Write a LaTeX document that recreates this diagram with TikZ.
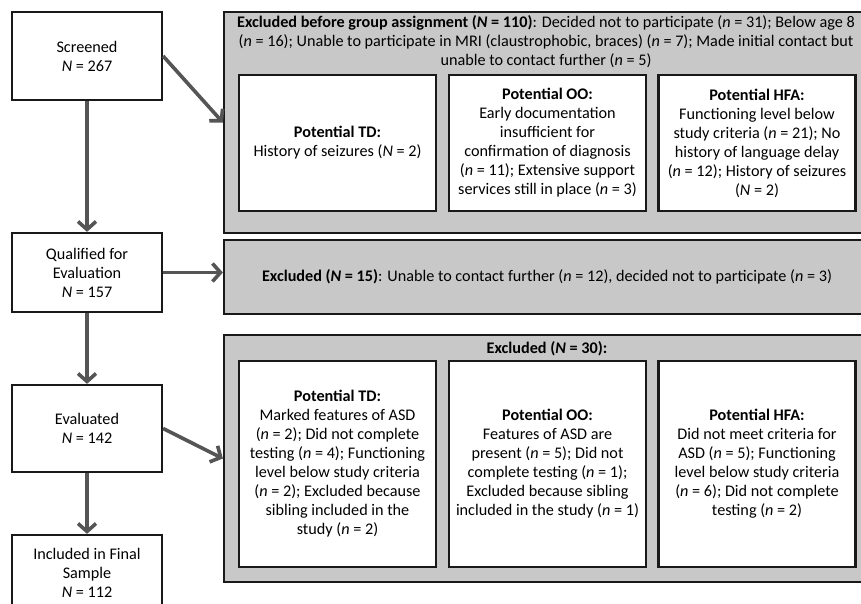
\documentclass[tikz,border=0pt]{standalone}
\usepackage{fontspec}
\setmainfont{Carlito}
\usetikzlibrary{arrows.meta}
\definecolor{boxgray}{RGB}{200,200,200}
\definecolor{arrowgray}{RGB}{85,85,85}
\begin{document}
\begin{tikzpicture}[x=1pt,y=-1pt,
		font=\fontsize{16.2}{19}\selectfont,
		stage/.style={draw=black!90,line width=2.2pt,fill=white,align=center,minimum width=150pt,inner sep=2pt},
		group/.style={draw=black!90,line width=2.2pt,fill=boxgray,align=center,minimum width=646pt},
		sub/.style={draw=black!90,line width=2.2pt,fill=white,align=center,minimum width=197pt,inner sep=1pt},
		flow/.style={draw=arrowgray,line width=3.6pt,-{Straight Barb[length=8pt,width=18pt]}}]
	\useasboundingbox (0,0) rectangle (861,603);
	\clip (0,0) rectangle (861,603);
	% stages on the left
	\node[stage,minimum height=88pt] (screened) at (87,56) {Screened\\\textit{N} = 267};
	\node[stage,minimum height=79pt] (qualified) at (87,272.5) {Qualified for\\Evaluation\\\textit{N} = 157};
	\node[stage,minimum height=87pt] (evaluated) at (87,428.5) {Evaluated\\\textit{N} = 142};
	\node[stage,minimum height=76pt] (included) at (87,573) {Included in Final\\Sample\\\textit{N} = 112};
	% first exclusion
	\node[group,minimum height=221pt] (excla) at (547,122.5) {};
	\node[align=center] (exclatitle) at (546,42) {\textbf{Excluded before group assignment (\textit{N} = 110)}: Decided not to participate (\textit{n} = 31); Below age 8\\(\textit{n} = 16); Unable to participate in MRI (claustrophobic, braces) (\textit{n} = 7); Made initial contact but\\unable to contact further (\textit{n} = 5)};
	\node[sub,minimum height=136pt] (tda) at (337.5,143) {\textbf{Potential TD:}\\History of seizures (\textit{N} = 2)};
	\node[sub,minimum height=136pt] (ooa) at (547.5,143) {\textbf{Potential OO:}\\Early documentation\\insufficient for\\confirmation of diagnosis\\(\textit{n} = 11); Extensive support\\services still in place (\textit{n} = 3)};
	\node[sub,minimum height=136pt] (hfaa) at (757,143) {\textbf{Potential HFA:}\\Functioning level below\\study criteria (\textit{n} = 21); No\\history of language delay\\(\textit{n} = 12); History of seizures\\(\textit{N} = 2)};
	% second exclusion
	\node[group,minimum height=74pt] (exclb) at (547,277) {\textbf{Excluded (\textit{N} = 15)}: Unable to contact further (\textit{n} = 12), decided not to participate (\textit{n} = 3)};
	% third exclusion
	\node[group,minimum height=247pt] (exclc) at (547,458.5) {};
	\node (exclctitle) at (547,349) {\textbf{Excluded (\textit{N} = 30):}};
	\node[sub,minimum height=206pt] (tdc) at (337.5,464) {\textbf{Potential TD:}\\Marked features of ASD\\(\textit{n} = 2); Did not complete\\testing (\textit{n} = 4); Functioning\\level below study criteria\\(\textit{n} = 2); Excluded because\\sibling included in the\\study (\textit{n} = 2)};
	\node[sub,minimum height=206pt] (ooc) at (547.5,464) {\textbf{Potential OO:}\\Features of ASD are\\present (\textit{n} = 5); Did not\\complete testing (\textit{n} = 1);\\Excluded because sibling\\included in the study (\textit{n} = 1)};
	\node[sub,minimum height=206pt] (hfac) at (757,464) {\textbf{Potential HFA:}\\Did not meet criteria for\\ASD (\textit{n} = 5); Functioning\\level below study criteria\\(\textit{n} = 6); Did not complete\\testing (\textit{n} = 2)};
	% arrows
	\draw[flow] (screened) -- (qualified);
	\draw[flow] (qualified) -- (evaluated);
	\draw[flow] (evaluated) -- (included);
	\draw[flow] (screened.east) -- (excla.west);
	\draw[flow] (qualified.east) -- (qualified.east -| exclb.west);
	\draw[flow] (evaluated.east) -- (exclc.west);
\end{tikzpicture}
\end{document}
